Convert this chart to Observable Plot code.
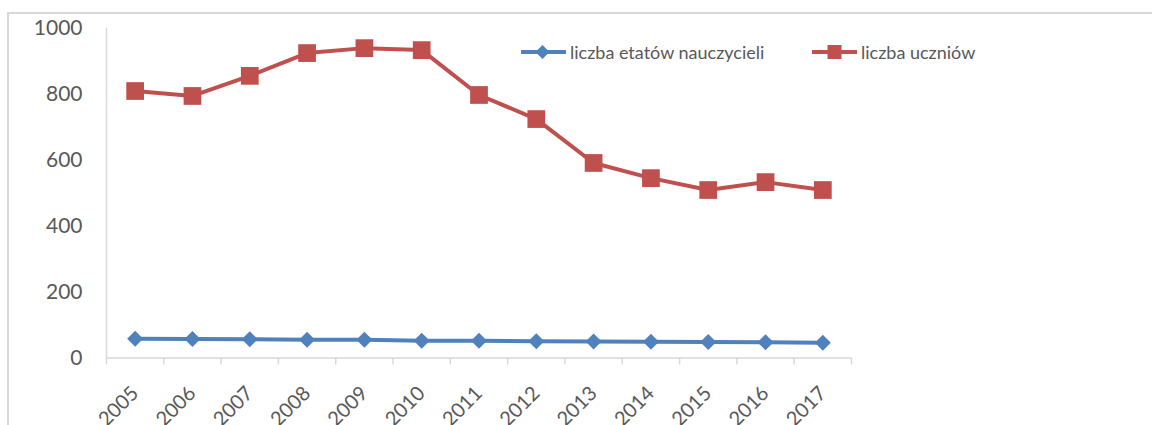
<!DOCTYPE html>
<html>
<head>
<meta charset="utf-8">
<script src="https://cdn.jsdelivr.net/npm/d3@7"></script>
<script src="https://cdn.jsdelivr.net/npm/@observablehq/plot@0.6"></script>
<style>
  html, body { margin: 0; padding: 0; background: #fff; }
  #wrap { position: relative; width: 1152px; height: 425px; overflow: hidden; font-family: Lato, "Open Sans", sans-serif; }
  #frame { position: absolute; left: 7px; top: 12px; width: 1200px; height: 500px; border-top: 2px solid #d9d9d9; border-left: 2px solid #d9d9d9; box-sizing: border-box; }
  #chart { position: absolute; left: 0; top: 0; }
  .legend { position: absolute; top: 38px; display: flex; align-items: center; font-size: 18px; color: #595959; white-space: nowrap; }
  .legend svg { display: block; margin-right: 4px; }
</style>
</head>
<body>
<div id="wrap">
  <div id="frame"></div>
  <div id="chart"></div>
  <div class="legend" id="leg1" style="left:521px;"></div>
  <div class="legend" id="leg2" style="left:812px;"></div>
</div>
<script>
const years = [2005, 2006, 2007, 2008, 2009, 2010, 2011, 2012, 2013, 2014, 2015, 2016, 2017];
const teachers = [58, 57.5, 57, 55.5, 55, 52.5, 52.5, 50.5, 50, 49.5, 48.5, 47.5, 46.5];
const students = [809, 794, 855, 924, 939, 933, 797, 724, 591, 545, 509, 533, 509];
const yTicks = [0, 200, 400, 600, 800, 1000];
const seriesNames = ["liczba etatów nauczycieli", "liczba uczniów"];
const colors = ["#4F81BD", "#C0504D"];

const teacherData = years.map((y, i) => ({year: y, value: teachers[i]}));
const studentData = years.map((y, i) => ({year: y, value: students[i]}));
const bounds = years.map(y => y - 0.5).concat([years[years.length - 1] + 0.5]);

const chart = Plot.plot({
  width: 1152,
  height: 425,
  marginLeft: 106,
  marginRight: 301,
  marginTop: 27.5,
  marginBottom: 67.5,
  style: {fontFamily: "Lato, 'Open Sans', sans-serif", background: "transparent"},
  x: {type: "linear", domain: [bounds[0], bounds[bounds.length - 1]], label: null},
  y: {domain: [0, 1000], label: null},
  marks: [
    Plot.ruleX([bounds[0]], {stroke: "#d9d9d9", strokeWidth: 1.5}),
    Plot.ruleY([0], {stroke: "#d9d9d9", strokeWidth: 1.5}),
    Plot.axisX({ticks: bounds, tickSize: 7, tickFormat: () => "", label: null, stroke: "#d9d9d9", strokeWidth: 1.5, strokeOpacity: 1}),
    Plot.axisX({ticks: years, tickSize: 0, tickPadding: 32, tickRotate: -45, label: null, tickFormat: d => String(d), fontSize: 20, fill: "#595959", style: {letterSpacing: "1px"}}),
    Plot.axisY({ticks: yTicks, tickSize: 0, tickPadding: 24, label: null, tickFormat: d => String(d), fontSize: 21, fill: "#595959"}),
    Plot.line(teacherData, {x: "year", y: "value", stroke: colors[0], strokeWidth: 4}),
    Plot.dot(teacherData, {x: "year", y: "value", symbol: "diamond2", r: 7.2, fill: colors[0], stroke: null}),
    Plot.line(studentData, {x: "year", y: "value", stroke: colors[1], strokeWidth: 4}),
    Plot.dot(studentData, {x: "year", y: "value", symbol: "square", r: 10, fill: colors[1], stroke: null})
  ]
});
document.getElementById("chart").appendChild(chart);

function legendItem(id, name, color, shape) {
  const el = document.getElementById(id);
  const ns = "http://www.w3.org/2000/svg";
  const svg = document.createElementNS(ns, "svg");
  svg.setAttribute("width", 45);
  svg.setAttribute("height", 28);
  const line = document.createElementNS(ns, "line");
  line.setAttribute("x1", 1); line.setAttribute("x2", 44);
  line.setAttribute("y1", 14); line.setAttribute("y2", 14);
  line.setAttribute("stroke", color); line.setAttribute("stroke-width", 4);
  line.setAttribute("stroke-linecap", "round");
  svg.appendChild(line);
  if (shape === "diamond") {
    const p = document.createElementNS(ns, "path");
    p.setAttribute("d", "M21.5,7 L28.5,14 L21.5,21 L14.5,14 Z");
    p.setAttribute("fill", color);
    svg.appendChild(p);
  } else {
    const r = document.createElementNS(ns, "rect");
    r.setAttribute("x", 15.5); r.setAttribute("y", 7);
    r.setAttribute("width", 14); r.setAttribute("height", 14);
    r.setAttribute("fill", color);
    svg.appendChild(r);
  }
  el.appendChild(svg);
  const span = document.createElement("span");
  span.textContent = name;
  el.appendChild(span);
}
legendItem("leg1", seriesNames[0], colors[0], "diamond");
legendItem("leg2", seriesNames[1], colors[1], "square");
</script>
</body>
</html>
